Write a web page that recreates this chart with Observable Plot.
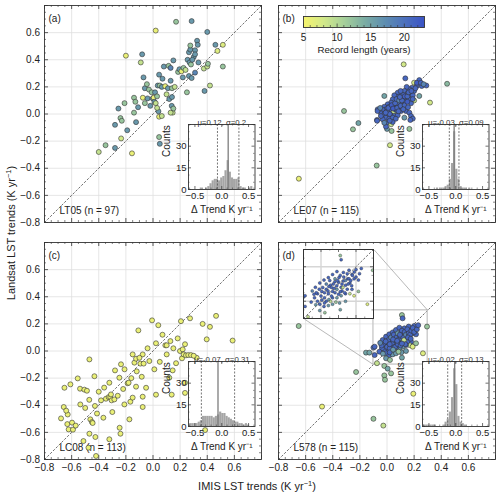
<!DOCTYPE html>
<html><head><meta charset="utf-8">
<script src="https://cdn.jsdelivr.net/npm/d3@7"></script>
<script src="https://cdn.jsdelivr.net/npm/@observablehq/plot@0.6"></script>
<style>
body{margin:0;background:#fff;}
#fig{position:relative;width:500px;height:494px;overflow:hidden;font-family:'Liberation Sans',Arial,Helvetica,sans-serif;color:#222;}
#fig > *{position:absolute;}
.ttl{white-space:nowrap;font-size:11px;line-height:11px;transform-origin:center;}
.ttl sup{font-size:7.5px;vertical-align:4px;line-height:0;}
</style></head><body><div id="fig"></div>
<script>
// ---------------- data ----------------
// (a) LT05
const ltIMIS = [-0.40,-0.35,-0.28,-0.28,-0.255,-0.24,-0.23,-0.21,-0.235,-0.19,
 -0.155,-0.14,-0.14,-0.125,-0.20,-0.09,-0.08,-0.07,-0.06,-0.045,
 -0.075,-0.06,-0.04,-0.03,-0.02,-0.01,-0.002,0.005,0.01,0.015,
 0.02,0.03,0.02,0.035,0.045,0.05,0.065,0.04,0.03,0.045,
 0.065,0.045,0.05,0.08,0.09,0.10,0.11,0.115,0.12,0.13,
 0.14,0.14,0.15,0.13,0.145,0.138,0.15,0.13,0.16,0.17,
 0.185,0.195,0.21,0.22,0.225,0.24,0.25,0.255,0.265,0.275,
 0.265,0.27,0.28,0.275,0.285,0.30,0.31,0.325,0.31,0.33,
 0.29,0.31,0.285,0.335,0.38,0.375,0.40,0.405,0.42,0.40,
 0.46,0.475,0.515,0.515,-0.13,-0.11,0.07];
const ltLandsat = [-0.28,-0.23,-0.25,-0.08,0.04,-0.03,-0.05,0.08,-0.18,-0.12,
 -0.29,0.12,0.01,-0.06,0.43,0.38,0.44,0.27,0.19,0.22,
 0.12,0.08,0.115,0.18,0.06,0.16,0.115,0.12,0.09,0.16,
 0.08,0.13,0.615,0.21,0.29,0.21,0.20,0.02,0.045,-0.02,
 -0.015,-0.17,-0.22,0.35,0.205,0.145,0.19,0.355,0.11,0.245,
 0.19,0.125,0.395,0.34,0.01,0.06,0.04,0.01,0.2,0.68,
 0.31,0.33,0.315,0.27,0.34,0.325,0.16,0.40,0.455,0.475,
 0.28,0.38,0.365,0.505,0.685,0.42,0.47,0.54,0.44,0.51,
 0.40,0.305,0.265,0.38,0.17,0.335,0.35,0.37,0.21,0.605,
 0.51,0.465,0.51,0.35,0.09,0.05,0.26];
const ltYears = [9,12,16,16,16,12,12,12,8,16, 6,12,12,16,6,9,16,16,16,12,
 6,12,16,12,16,12,16,6,16,16, 9,12,6,16,16,12,16,16,9,6,
 9,12,16,16,6,9,16,12,16,16, 12,16,16,18,9,16,12,9,9,12,
 12,16,6,16,12,9,12,16,16,16, 16,16,12,12,16,16,16,16,16,16,
 16,18,16,16,16,9,9,12,9,16, 16,7,7,12,12,16,16];

// (b) LE07
const leIMIS = [-0.65,-0.317,-0.251,-0.211,-0.076,0.022,0.165,0.123,0.2,0.443,0.317,0.135,0.0,-0.02,
 0.238,0.219,0.256,0.29,0.184,0.2,0.165,0.145,0.128,0.152, 0.172,0.19,0.238,0.103,0.079,0.084,0.054,0.115,0.14,0.165,
 0.2,0.177,0.128,0.103,0.066,0.042,0.03,0.005,0.017,0.054, 0.079,0.091,0.115,-0.02,-0.008,-0.032,-0.057,-0.069,0.024,0.049,
 0.066,0.103,0.14,0.165,-0.044,-0.02,0.005,0.03,0.054,0.079, -0.008,0.017,0.042,-0.032,-0.074,0.177,0.19,0.172,0.128,0.005,
 0.03,-0.008,0.042,0.034,-0.07,-0.073,
 0.0,0.01,0.035,0.06,0.07,0.09,0.11,0.12,0.13,0.15, 0.16,0.18,0.21,0.22,0.25,0.27,0.095,0.06,0.045,0.02,
 -0.01,-0.045,-0.05,0.075,0.1,0.13,0.15,0.155,0.12,0.085, 0.065,0.02,-0.02,0.19,0.1];
const leLandsat = [-0.477,0.022,-0.113,-0.067,-0.38,-0.23,-0.11,0.366,0.231,0.223,0.084,0.263,-0.11,0.133,
 0.25,0.206,0.206,0.21,0.194,0.17,0.182,0.2,0.17,0.152, 0.145,0.138,0.133,0.145,0.157,0.128,0.138,0.12,0.113,0.108,
 0.1,0.079,0.089,0.084,0.096,0.108,0.084,0.071,0.054,0.059, 0.071,0.047,0.059,0.054,0.034,0.03,0.027,0.034,0.03,0.017,
 0.03,0.022,0.022,0.01,0.005,-0.003,0.005,-0.01,-0.015,-0.01, -0.027,-0.034,-0.027,-0.039,-0.044,-0.015,-0.034,-0.044,-0.027,-0.064,
 -0.076,-0.093,-0.059,-0.125,0.022,-0.05,
 0.02,0.045,0.065,0.08,0.11,0.1,0.1,0.14,0.13,0.13, 0.16,0.17,0.19,0.23,0.23,0.22,0.125,0.04,0.04,0.0,
 0.01,-0.015,0.045,0.045,0.06,0.065,0.09,0.05,0.035,0.02, -0.035,-0.05,-0.065,0.11,0.17];
const leYears = [6,12,12,15,12,8,12,8,8,13,8,21,16,15,
 21,21,21,21,21,21,21,21,21,21, 20,21,15,21,21,21,21,21,21,21,
 9,21,21,21,21,21,21,21,21,21, 21,21,21,21,21,21,21,21,21,9,
 21,21,21,21,21,21,21,21,21,21, 21,21,21,21,21,21,21,21,16,21,
 9,21,21,12,21,21,
 21,21,22,21,21,18,21,21,22,21, 21,21,21,22,21,18,21,21,22,21,
 21,21,18,21,21,21,22,21,21,21, 21,21,18,21,21];

// (c) LC08
const lcIMIS = [-0.678,-0.658,-0.653,-0.632,-0.629,-0.622,-0.609,-0.597,-0.59,-0.555,
 -0.538,-0.536,-0.513,-0.506,-0.487,-0.469,-0.476,-0.462,-0.45,-0.445,
 -0.469,-0.432,-0.428,-0.425,-0.413,-0.42,-0.383,-0.366,-0.347,-0.327,
 -0.322,-0.315,-0.305,-0.322,-0.31,-0.285,-0.28,-0.248,-0.246,-0.24,
 -0.236,-0.21,-0.211,-0.187,-0.18,-0.174,-0.167,-0.15,-0.137,-0.125,
 -0.108,-0.125,-0.15,-0.093,-0.083,-0.076,-0.069,-0.076,-0.076,-0.051,
 -0.027,-0.007,0.01,0.022,0.022,0.039,0.091,0.101,0.101,0.12,
 0.128,0.138,0.145,0.182,0.199,0.206,0.214,0.219,0.226,0.236,
 0.236,0.243,0.273,0.322,0.236,0.366,0.396,0.42,0.465,0.587,
 0.384,0.26,0.28,0.30,
 -0.64,-0.57,-0.5,-0.47,-0.4,-0.36,-0.3,-0.26,-0.22,-0.16,
 -0.12,-0.1,-0.04,0.05,0.07,0.15,0.17,0.3,0.45];
const lcLandsat = [-0.497,-0.413,-0.271,-0.539,-0.468,-0.578,-0.246,-0.528,-0.58,-0.202,
 -0.278,-0.394,-0.664,-0.285,-0.293,-0.062,-0.713,-0.504,-0.524,-0.531,
 -0.61,-0.186,-0.405,-0.634,-0.461,-0.774,-0.364,-0.492,-0.352,-0.34,
 -0.234,-0.34,-0.364,-0.651,-0.32,-0.357,-0.143,-0.197,-0.566,-0.61,
 -0.098,-0.135,-0.394,-0.238,-0.234,-0.504,-0.374,-0.025,-0.086,-0.057,
 0.152,-0.263,-0.344,-0.093,-0.19,-0.025,-0.093,-0.337,-0.413,-0.271,
 -0.074,0.226,-0.135,-0.322,0.057,0.19,0.042,-0.025,0.042,-0.197,
 0.073,-0.322,-0.143,0.093,0.0,0.22,-0.054,0.012,-0.025,0.05,
 -0.309,-0.032,0.241,-0.05,-0.234,0.2,0.086,0.178,0.259,0.077,
 -0.583,-0.03,-0.03,-0.035,
 -0.44,-0.55,-0.42,-0.36,-0.3,-0.27,-0.45,-0.33,-0.28,-0.2,
 -0.15,-0.05,0.02,-0.08,0.12,0.02,-0.09,-0.2,-0.35];
const lcYears = 6;

// (d) L578
const lsIMIS = [-0.651,-0.479,-0.228,-0.155,-0.13,-0.1,-0.074,-0.02,-0.02,-0.015,0.03,-0.1,-0.027,0.005,0.11,0.265,0.194,0.295,0.11,0.115,0.2,
 0.177,0.152,0.128,0.103,0.079,0.054,0.03,0.005,-0.02,0.042, 0.066,0.091,0.115,0.14,0.165,0.189,0.177,0.165,0.189,0.14,
 0.115,0.091,0.066,0.054,0.03,0.005,-0.02,-0.037,-0.007,0.017, 0.042,0.066,-0.007,0.022,-0.091,-0.091,-0.027,-0.056,-0.032,-0.007,
 0.017,0.042,0.066,0.091,0.128,0.16,0.214,0.106,0.14,0.214,
 0.0,0.01,0.02,0.03,0.04,0.05,0.06,0.06,0.07,0.08, 0.08,0.09,0.1,0.1,0.11,0.12,0.12,0.13,0.14,0.15,
 0.15,0.16,0.17,0.18,0.19,0.2,0.22,0.23,-0.04,-0.05, -0.03,-0.01,0.02,0.045,0.075,0.095,0.125,0.135,0.155,0.175,
 0.02,0.045,0.085,0.11];
const lsLandsat = [0.184,-0.41,-0.155,-0.012,-0.012,0.025,-0.09,-0.11,-0.18,-0.212,-0.165,-0.5,-0.55,-0.13,-0.049,-0.017,-0.315,0.18,0.265,0.241,0.184,
 0.155,0.13,0.118,0.137,0.113,0.093,0.069,0.057,0.044,0.044, 0.057,0.069,0.081,0.093,0.106,0.13,0.069,0.044,0.032,0.044,
 0.032,0.02,0.02,0.0,0.0,0.007,0.0,0.02,-0.017,-0.03, -0.025,-0.017,-0.054,-0.066,0.032,-0.03,0.049,-0.005,0.081,0.106,
 0.123,0.137,0.155,0.172,0.167,0.18,0.123,-0.01,0.0,0.057,
 0.03,0.08,0.02,0.1,0.06,0.12,0.03,0.08,0.1,0.05, 0.13,0.09,0.11,0.04,0.15,0.1,0.06,0.14,0.12,0.16,
 0.07,0.13,0.12,0.15,0.17,0.14,0.16,0.19,0.04,0.06, -0.02,0.07,0.05,0.085,0.075,0.12,0.08,0.05,0.1,0.09,
 -0.01,0.01,-0.005,0.055];
const lsYears = [12,6,12,15,15,20,9,12,12,12,12,12,9,15,15,7,6,12,12,21,21,
 21,21,21,21,21,21,21,21,21,21, 21,16,21,21,21,21,21,9,7,21,
 16,16,21,9,21,21,21,21,21,21, 16,16,16,12,21,21,21,21,21,21,
 21,21,21,21,21,21,21,16,16,12,
 21,21,21,18,21,21,21,21,21,21, 16,21,21,21,21,21,21,21,18,21,
 21,21,21,21,21,21,21,21,21,18, 16,21,21,21,21,21,9,21,21,21,
 21,16,12,21];

// histograms of Δ trend (left bin edges and counts)
const HIST_BIN = 0.04;
const ltBinLeft  = [-0.38,-0.30,-0.26,-0.22,-0.18,-0.14,-0.10,-0.06,-0.02,0.02,0.06,0.10,0.14,0.18,0.22,0.26,0.30,0.34,0.38,0.42,0.50,0.54];
const ltBinCount = [1,1,2,4,6,7,7,6,8,9,13,20,12,8,7,7,8,2,1,1,1,2];
const leBinLeft  = [-0.36,-0.28,-0.24,-0.20,-0.16,-0.12,-0.08,-0.04,0.00,0.04,0.08,0.12,0.16,0.24];
const leBinCount = [1,1,1,2,3,7,18,40,14,7,2,1,1,1];
const lcBinLeft  = [-0.60,-0.56,-0.52,-0.48,-0.44,-0.40,-0.36,-0.32,-0.28,-0.24,-0.20,-0.16,-0.12,-0.08,-0.04,0.00,0.04,0.08,0.12,0.16,0.20,0.24,0.28,0.32,0.36,0.40,0.44,0.48];
const lcBinCount = [2,2,2,2,3,4,7,7,7,7,7,6,7,8,10,9,9,7,6,5,4,3,3,2,2,1,2,1];
const lsBinLeft  = [-0.60,-0.56,-0.52,-0.48,-0.44,-0.40,-0.24,-0.20,-0.16,-0.12,-0.08,-0.04,0.00,0.04,0.08,0.12,0.16];
const lsBinCount = [1,1,1,1,1,1,1,3,5,10,20,40,29,7,3,2,1];
const histMu    = [0.12, -0.03, -0.07, -0.02];
const histSigma = [0.2, 0.09, 0.31, 0.13];

// labels
const panelTags  = ["(a)", "(b)", "(c)", "(d)"];
const panelNames = ["LT05 (n = 97)", "LE07 (n = 115)", "LC08 (n = 113)", "L578 (n = 115)"];
const axisTicks  = [-0.8,-0.6,-0.4,-0.2,0,0.2,0.4,0.6,0.8];
const axisTickLabels = [-0.8,-0.6,-0.4,-0.2,0,0.2,0.4,0.6];
const histXTicks = [-0.5, 0, 0.5];
const histYTicks = [0, 15, 30];
const cbTicks = [5, 10, 15, 20];
const cbTitle = "Record length (years)";
const xTitle = "IMIS LST trends (K yr<sup>−1</sup>)";
const yTitle = "Landsat LST trends (K yr<sup>−1</sup>)";
const histXLabel = "Δ Trend K yr⁻¹";
const histYLabel = "Counts";
const zoomBox = [-0.1, 0.3];
const zoomGrid = [0, 0.2];

// ---------------- style / layout ----------------
const FONT = "'Liberation Sans', Arial, Helvetica, sans-serif";
const AX = [-0.8, 0.8];
const FRAME = 217;
const COLS = [43.5, 277.5], ROWS = [4.5, 241.5];
const INK = "#333";
const YEAR_STOPS  = [5, 8, 11, 14, 17, 20, 23];
const YEAR_COLORS = ["#f6f46e","#d2e98a","#a6d09a","#7caea3","#5f8fb0","#4d71bd","#3b53c6"];
const COLOR = {type: "linear", domain: YEAR_STOPS, range: YEAR_COLORS, interpolate: "rgb"};
const HIST_X = [-0.62, 0.62];
const fmt1 = d3.format(".1f");
const fig = document.getElementById("fig");
const baseStyle = {background: "transparent", overflow: "visible", fontFamily: FONT, fontSize: "10px", color: "#222"};

function place(el, left, top) { el.style.left = left + "px"; el.style.top = top + "px"; fig.appendChild(el); }
function isMajor(v, step) { return Math.abs(Math.round(v / step) * step - v) < 1e-9; }

function frameTicks(xs, ys, len, W, H, sw) {
  const o = {stroke: INK, strokeWidth: sw};
  return [
    Plot.ruleX(xs, {...o, insetTop: H - len}),
    Plot.ruleX(xs, {...o, insetBottom: H - len}),
    Plot.ruleY(ys, {...o, insetRight: W - len}),
    Plot.ruleY(ys, {...o, insetLeft: W - len})
  ];
}

const MINOR = d3.range(-16, 17).map(i => +(i * 0.05).toFixed(2)).filter(v => !isMajor(v, 0.2));

function mainPanel(i, xs, ys, cs, col, row, extra) {
  const ml = 42, mr = 3, mt = 3, mb = 22;
  const pts = xs.map((x, k) => ({x, y: ys[k], c: Array.isArray(cs) ? cs[k] : cs}));
  const marks = [
    Plot.ruleX(axisTicks.slice(1, -1), {stroke: "#e0e0e0", strokeWidth: 0.8}),
    Plot.ruleY(axisTicks.slice(1, -1), {stroke: "#e0e0e0", strokeWidth: 0.8}),
    ...frameTicks(MINOR, MINOR, 2, FRAME, FRAME, 0.6),
    ...frameTicks(axisTicks, axisTicks, 4, FRAME, FRAME, 0.8),
    Plot.link([0], {x1: AX[0], y1: AX[0], x2: AX[1], y2: AX[1], stroke: INK, strokeWidth: 0.7, strokeDasharray: "2.5,1.5"}),
    ...(extra || []),
    Plot.frame({stroke: INK, strokeWidth: 0.9}),
    Plot.text([panelTags[i]], {frameAnchor: "top-left", dx: 4, dy: 9, textAnchor: "start", fontSize: 10, fill: "#222"}),
    Plot.text([panelNames[i]], {frameAnchor: "bottom-left", dx: 15, dy: -9, textAnchor: "start", fontSize: 10, fill: "#222"}),
    Plot.dot(pts, {x: "x", y: "y", fill: "c", r: 2.5, stroke: INK, strokeWidth: 0.6})
  ];
  if (col === 0) marks.push(Plot.axisY(axisTickLabels, {tickSize: 0, tickPadding: 4.5, tickFormat: fmt1, label: null, fontSize: 10}));
  if (row === 1) marks.push(Plot.axisX(axisTickLabels, {tickSize: 0, tickPadding: 4, tickFormat: fmt1, label: null, fontSize: 10}));
  const svg = Plot.plot({
    width: FRAME + ml + mr, height: FRAME + mt + mb,
    marginLeft: ml, marginRight: mr, marginTop: mt, marginBottom: mb,
    style: baseStyle,
    x: {domain: AX, axis: null}, y: {domain: AX, axis: null},
    color: COLOR,
    marks
  });
  place(svg, COLS[col] - ml, ROWS[row] - mt);
}

function histInset(i, left, count, col, row) {
  const W = 66.5, H = 65, ml = 28, mr = 3, mt = 12, mb = 32;
  const bins = left.map((l, k) => ({x1: l, x2: l + HIST_BIN, n: count[k]}));
  const mu = histMu[i], sd = histSigma[i];
  const xMin = d3.range(-6, 7).map(k => k / 10).filter(v => !isMajor(v, 0.5));
  const yMin = d3.range(0, 46, 5).filter(v => v % 15 !== 0);
  const svg = Plot.plot({
    width: W + ml + mr, height: H + mt + mb,
    marginLeft: ml, marginRight: mr, marginTop: mt, marginBottom: mb,
    style: baseStyle,
    x: {domain: HIST_X, axis: null}, y: {domain: [0, 45], axis: null},
    marks: [
      Plot.frame({fill: "white"}),
      Plot.rect(bins, {x1: "x1", x2: "x2", y1: 0, y2: "n", fill: "#9b9b9b", fillOpacity: 0.9}),
      Plot.ruleX([mu], {stroke: "#7d7d7d", strokeWidth: 1.3}),
      Plot.ruleX([mu - sd, mu + sd], {stroke: "#555", strokeWidth: 0.8, strokeDasharray: "2,1.5"}),
      ...frameTicks(xMin, yMin, 1.5, W, H, 0.5),
      ...frameTicks(histXTicks, [...histYTicks, 45], 3, W, H, 0.7),
      Plot.frame({stroke: INK, strokeWidth: 0.9}),
      Plot.axisX(histXTicks, {tickSize: 0, tickPadding: 3, tickFormat: fmt1, label: null, fontSize: 9.5}),
      Plot.axisY(histYTicks, {tickSize: 0, tickPadding: 2, label: null, fontSize: 9.5}),
      Plot.text([histYLabel], {frameAnchor: "left", dx: -21.5, rotate: -90, fontSize: 10, fill: "#222"}),
      Plot.text([`μ=${mu}, σ=${sd}`], {frameAnchor: "top", dy: -5, fontSize: 7.8, fill: "#333"}),
      Plot.text([histXLabel], {frameAnchor: "bottom", dy: 23.3, fontSize: 10, fill: "#222"})
    ]
  });
  place(svg, COLS[col] + 144.5 - ml, ROWS[row] + 119.5 - mt);
}

function colorbar() {
  const W = 121, H = 11, ml = 10, mr = 10, mt = 2, mb = 34;
  const minor = d3.range(6, 23).filter(v => v % 5 !== 0);
  const svg = Plot.plot({
    width: W + ml + mr, height: H + mt + mb,
    marginLeft: ml, marginRight: mr, marginTop: mt, marginBottom: mb,
    style: baseStyle,
    x: {domain: [5, 23], axis: null}, y: {domain: [0, 1], axis: null},
    color: COLOR,
    marks: [
      Plot.raster({x1: 5, x2: 23, y1: 0, y2: 1, width: W, height: 1, fill: (x, y) => x}),
      Plot.ruleX(minor, {stroke: INK, strokeWidth: 0.6, insetTop: H - 2}),
      Plot.ruleX(cbTicks, {stroke: INK, strokeWidth: 0.7, insetTop: H - 3.5}),
      Plot.frame({stroke: INK, strokeWidth: 0.9}),
      Plot.axisX(cbTicks, {tickSize: 0, tickPadding: 6, label: null, fontSize: 10}),
      Plot.text([cbTitle], {frameAnchor: "bottom", dy: 25, fontSize: 9.7, fill: "#222"})
    ]
  });
  place(svg, COLS[1] + 25 - ml, ROWS[0] + 11.5 - mt);
}

// zoomed inset of panel (d), in pixel layout relative to the panel frame
const ZOOM_INSET = {left: 25.8, top: 7.5, w: 70, h: 69};
const pxToX = px => AX[0] + px / FRAME * (AX[1] - AX[0]);
const pxToY = py => AX[1] - py / FRAME * (AX[1] - AX[0]);
const zoomExtra = [
  Plot.rect([0], {x1: zoomBox[0], x2: zoomBox[1], y1: zoomBox[0], y2: zoomBox[1], fill: "none", stroke: "#c6c6c6", strokeWidth: 1.3}),
  Plot.link([0], {x1: pxToX(ZOOM_INSET.left + ZOOM_INSET.w), y1: pxToY(ZOOM_INSET.top), x2: zoomBox[1], y2: zoomBox[1], stroke: "#9a9a9a", strokeWidth: 0.7}),
  Plot.link([0], {x1: pxToX(ZOOM_INSET.left), y1: pxToY(ZOOM_INSET.top + ZOOM_INSET.h), x2: zoomBox[0], y2: zoomBox[0], stroke: "#9a9a9a", strokeWidth: 0.7})
];

function zoomInset() {
  const W = ZOOM_INSET.w, H = ZOOM_INSET.h, m = 1;
  const pts = lsIMIS.map((x, k) => ({x, y: lsLandsat[k], c: lsYears[k]}));
  const minor = d3.range(-2, 7).map(k => +(k * 0.05).toFixed(2)).filter(v => !isMajor(v, 0.1));
  const major = [-0.1, 0, 0.1, 0.2, 0.3];
  const svg = Plot.plot({
    width: W + 2 * m, height: H + 2 * m, margin: m,
    style: baseStyle,
    x: {domain: zoomBox, axis: null}, y: {domain: zoomBox, axis: null},
    color: COLOR,
    marks: [
      Plot.frame({fill: "white"}),
      Plot.ruleX(zoomGrid, {stroke: "#d6d6d6", strokeWidth: 1.4}),
      Plot.ruleY(zoomGrid, {stroke: "#d6d6d6", strokeWidth: 1.4}),
      ...frameTicks(minor, minor, 1.5, W, H, 0.5),
      ...frameTicks(major, major, 3, W, H, 0.7),
      Plot.link([0], {x1: zoomBox[0], y1: zoomBox[0], x2: zoomBox[1], y2: zoomBox[1], stroke: INK, strokeWidth: 0.7, strokeDasharray: "2.5,1.5"}),
      Plot.dot(pts, {x: "x", y: "y", fill: "c", r: 1.5, stroke: INK, strokeWidth: 0.4, clip: true}),
      Plot.frame({stroke: INK, strokeWidth: 1})
    ]
  });
  place(svg, COLS[1] + ZOOM_INSET.left - m, ROWS[1] + ZOOM_INSET.top - m);
}

// ---------------- draw ----------------
mainPanel(0, ltIMIS, ltLandsat, ltYears, 0, 0);
mainPanel(1, leIMIS, leLandsat, leYears, 1, 0);
mainPanel(2, lcIMIS, lcLandsat, lcYears, 0, 1);
mainPanel(3, lsIMIS, lsLandsat, lsYears, 1, 1, zoomExtra);
histInset(0, ltBinLeft, ltBinCount, 0, 0);
histInset(1, leBinLeft, leBinCount, 1, 0);
histInset(2, lcBinLeft, lcBinCount, 0, 1);
histInset(3, lsBinLeft, lsBinCount, 1, 1);
colorbar();
zoomInset();

const xt = document.createElement("div");
xt.className = "ttl"; xt.innerHTML = xTitle;
xt.style.transform = "translate(-50%,-50%)";
place(xt, 257, 486);
const yt = document.createElement("div");
yt.className = "ttl"; yt.innerHTML = yTitle;
yt.style.transform = "translate(-50%,-50%) rotate(-90deg)";
place(yt, 11, 233);
</script></body></html>
